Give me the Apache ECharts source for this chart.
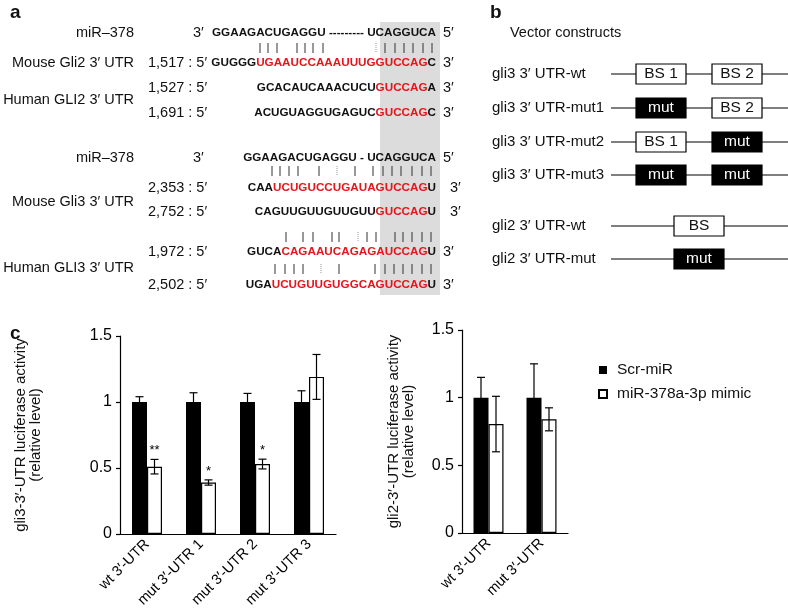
<!DOCTYPE html>
<html><head><meta charset="utf-8">
<script src="https://cdn.jsdelivr.net/npm/echarts@6/dist/echarts.min.js"></script>
<style>html,body{margin:0;padding:0;background:#fff}#c{width:788px;height:613px}</style>
</head><body><div id="c"></div>
<script>
const FONT = '"Liberation Sans", Arial, Helvetica, sans-serif';

// ---------- panel c data ----------
const gli3Categories = ['wt 3′-UTR', 'mut 3′-UTR 1', 'mut 3′-UTR 2', 'mut 3′-UTR 3'];
const gli3Scr = [1, 1, 1, 1];
const gli3ScrErr = [0.04, 0.07, 0.065, 0.085];
const gli3Mimic = [0.51, 0.39, 0.53, 1.19];
const gli3MimicErr = [0.055, 0.02, 0.037, 0.17];
const gli3Stars = ['**', '*', '*', ''];
const gli2Categories = ['wt 3′-UTR', 'mut 3′-UTR'];
const gli2Scr = [1, 1];
const gli2ScrErr = [0.15, 0.25];
const gli2Mimic = [0.805, 0.84];
const gli2MimicErr = [0.205, 0.085];
const legendNames = ['Scr-miR', 'miR-378a-3p mimic'];
const gli3AxisName = 'gli3-3′-UTR luciferase activity\n(relative level)';
const gli2AxisName = 'gli2-3′-UTR luciferase activity\n(relative level)';

// ---------- panel a text ----------
const miRName = 'miR–378';
const geneLabels = ['Mouse Gli2 3′ UTR', 'Human GLI2 3′ UTR', 'Mouse Gli3 3′ UTR', 'Human GLI3 3′ UTR'];
const miRSeqGli2 = 'GGAAGACUGAGGU --------- UCAGGUCA';
const miRSeqGli3 = 'GGAAGACUGAGGU - UCAGGUCA';
const utrPos = ['1,517', '1,527', '1,691', '2,353', '2,752', '1,972', '2,502'];
const utrPre = ['GUGGG', 'GCACAUCAAACUCU', 'ACUGUAGGUGAGUC', 'CAA', 'CAGUUGUUGUUGUU', 'GUCA', 'UGA'];
const utrRed = ['UGAAUCCAAAUUUGGUCCAG', 'GUCCAG', 'GUCCAG', 'UCUGUCCUGAUAGUCCAG', 'GUCCAG', 'CAGAAUCAGAGAUCCAG', 'UCUGUUGUGGCAGUCCAG'];
const utrPost = ['C', 'A', 'C', 'U', 'U', 'U', 'U'];

// ---------- panel b text ----------
const constructNames = ['gli3 3′ UTR-wt', 'gli3 3′ UTR-mut1', 'gli3 3′ UTR-mut2', 'gli3 3′ UTR-mut3', 'gli2 3′ UTR-wt', 'gli2 3′ UTR-mut'];
const constructBoxes = [['BS 1', 'BS 2'], ['mut', 'BS 2'], ['BS 1', 'mut'], ['mut', 'mut'], ['BS'], ['mut']];

// ---------- layout (positions, not data) ----------
const utrRowY = [63, 88, 113, 188, 212, 252, 285];
const utrEnd3X = [443, 443, 443, 450, 450, 443, 443];
const geneLabelY = [63, 100, 202, 268];
const pairRows = [
  {y1: 43, y2: 53, xs: [260, 268, 277, 297, 305, 313, 323, 376, 385, 395, 404, 413, 423, 432], dotted: [376]},
  {y1: 166, y2: 176, xs: [272, 280, 289, 298, 319, 337, 355, 373, 383, 392, 401, 412, 422, 431], dotted: [337]},
  {y1: 232, y2: 242, xs: [286, 303, 313, 332, 339, 358, 367, 376, 395, 403, 412, 422, 431], dotted: [358]},
  {y1: 264, y2: 274, xs: [275, 285, 294, 303, 321, 339, 375, 385, 394, 403, 412, 422, 431], dotted: [321]}
];
const constructY = [74, 108, 142, 175, 226, 259];

const INK = '#111';
const RED = '#e8141b';
const SEQ_SIZE = 11.7;

function T(x, y, text, o) {
  o = o || {};
  return {
    type: 'text', x: x, y: y, silent: true, z: 10,
    style: Object.assign({
      text: text, fill: o.fill || INK, fontFamily: FONT, fontSize: o.size || 14.5,
      fontWeight: o.bold ? 'bold' : 'normal', align: o.align || 'left', verticalAlign: 'middle'
    }, o.extra || {})
  };
}
function seqText(x, y, pre, red, post) {
  const rich = {
    k: {fontFamily: FONT, fontSize: SEQ_SIZE, fontWeight: 'bold', fill: INK, color: INK},
    r: {fontFamily: FONT, fontSize: SEQ_SIZE, fontWeight: 'bold', fill: RED, color: RED}
  };
  let s = '';
  if (pre) s += '{k|' + pre + '}';
  if (red) s += '{r|' + red + '}';
  if (post) s += '{k|' + post + '}';
  return {
    type: 'text', x: x, y: y, silent: true, z: 10,
    style: {text: s, rich: rich, fontFamily: FONT, fontSize: SEQ_SIZE, fontWeight: 'bold', fill: INK, align: 'right', verticalAlign: 'middle'}
  };
}

const graphics = [];
// panel letters
graphics.push(T(10, 13, 'a', {bold: true, size: 19}));
graphics.push(T(490, 13, 'b', {bold: true, size: 19}));
graphics.push(T(10, 334, 'c', {bold: true, size: 19}));

// panel a: gray seed shading
graphics.push({type: 'rect', silent: true, z: 1, shape: {x: 380, y: 22, width: 60, height: 273}, style: {fill: '#dcdcdc'}});
// miR rows
[[33, miRSeqGli2], [158, miRSeqGli3]].forEach(function (r) {
  graphics.push(T(134, r[0], miRName, {align: 'right'}));
  graphics.push(T(193, r[0], '3′'));
  graphics.push(seqText(436, r[0], r[1], '', ''));
  graphics.push(T(443, r[0], '5′'));
});
geneLabels.forEach(function (g, i) {
  graphics.push(T(134, geneLabelY[i], g, {align: 'right'}));
});
utrPos.forEach(function (p, i) {
  graphics.push(T(148, utrRowY[i], p + ' : 5′'));
  graphics.push(seqText(436, utrRowY[i], utrPre[i], utrRed[i], utrPost[i]));
  graphics.push(T(utrEnd3X[i], utrRowY[i], '3′'));
});
pairRows.forEach(function (row) {
  row.xs.forEach(function (x) {
    const dot = row.dotted.indexOf(x) >= 0;
    graphics.push({type: 'line', silent: true, z: 5,
      shape: {x1: x, y1: row.y1, x2: x, y2: row.y2},
      style: {stroke: dot ? '#999' : '#333', lineWidth: 1, lineDash: dot ? [1, 1] : null}});
  });
});

// panel b
graphics.push(T(510, 33, 'Vector constructs'));
constructNames.forEach(function (name, i) {
  const y = constructY[i];
  graphics.push(T(492, y, name, {size: 15}));
  graphics.push({type: 'line', silent: true, z: 4, shape: {x1: 611, y1: y, x2: 788, y2: y}, style: {stroke: '#000', lineWidth: 1.2}});
  const boxes = constructBoxes[i];
  const xs = boxes.length === 2 ? [636, 712] : [674];
  boxes.forEach(function (b, j) {
    const isMut = b === 'mut';
    graphics.push({type: 'rect', silent: true, z: 6, shape: {x: xs[j], y: y - 10, width: 50, height: 20},
      style: {fill: isMut ? '#000' : '#fff', stroke: '#000', lineWidth: 1.2}});
    graphics.push(T(xs[j] + 25, y, b, {align: 'center', size: 15.5, fill: isMut ? '#fff' : INK}));
  });
});

function errRender(side, stars) {
  return function (params, api) {
    const i = api.value(0), v = api.value(1), e = api.value(2);
    const p0 = api.coord([i, v + e]), p1 = api.coord([i, v - e]);
    const x = p0[0] + side * 7.5;
    const ls = {stroke: '#000', lineWidth: 1.2};
    const children = [
      {type: 'line', shape: {x1: x, y1: p0[1], x2: x, y2: p1[1]}, style: ls},
      {type: 'line', shape: {x1: x - 4, y1: p0[1], x2: x + 4, y2: p0[1]}, style: ls},
      {type: 'line', shape: {x1: x - 4, y1: p1[1], x2: x + 4, y2: p1[1]}, style: ls}
    ];
    if (stars && stars[params.dataIndex]) {
      children.push({type: 'text', x: x, y: p0[1] - 2,
        style: {text: stars[params.dataIndex], align: 'center', verticalAlign: 'bottom', fontSize: 13, fontFamily: FONT, fill: '#000'}});
    }
    return {type: 'group', children: children};
  };
}

function xAxisCfg(idx, cats) {
  return {
    type: 'category', gridIndex: idx, data: cats,
    axisLine: {lineStyle: {color: '#000', width: 1.2}},
    axisTick: {show: false},
    axisLabel: {interval: 0, rotate: 45, fontSize: 14.5, fontFamily: FONT, color: '#000', margin: 8}
  };
}
function yAxisCfg(idx, name, gap) {
  return {
    type: 'value', gridIndex: idx, min: 0, max: 1.5, interval: 0.5,
    name: name, nameLocation: 'middle', nameRotate: 90, nameGap: gap,
    nameTextStyle: {fontSize: 15, fontFamily: FONT, color: '#111', lineHeight: 15},
    axisLine: {show: true, lineStyle: {color: '#000', width: 1.2}},
    axisTick: {show: true, length: 4, lineStyle: {color: '#000', width: 1.2}},
    axisLabel: {fontSize: 16, fontFamily: FONT, color: '#000', margin: 8},
    splitLine: {show: false}
  };
}
function barSeries(name, ax, data, black) {
  return {
    name: name, type: 'bar', xAxisIndex: ax, yAxisIndex: ax, data: data,
    barWidth: 15, barGap: '0%', z: 2,
    itemStyle: black ? {color: '#000'} : {color: '#fff', borderColor: '#000', borderWidth: 1.2}
  };
}
function errSeries(ax, vals, errs, side, stars) {
  return {
    type: 'custom', xAxisIndex: ax, yAxisIndex: ax, z: 3, silent: true,
    data: vals.map(function (v, i) { return [i, v, errs[i]]; }),
    encode: {x: 0, y: 1},
    renderItem: errRender(side, stars)
  };
}

const chart = echarts.init(document.getElementById('c'));
chart.setOption({
  animation: false,
  backgroundColor: '#fff',
  textStyle: {fontFamily: FONT},
  grid: [
    {left: 120, top: 336, width: 216, height: 198},
    {left: 462, top: 330, width: 106, height: 203}
  ],
  xAxis: [xAxisCfg(0, gli3Categories), xAxisCfg(1, gli2Categories)],
  yAxis: [yAxisCfg(0, gli3AxisName, 77), yAxisCfg(1, gli2AxisName, 46)],
  legend: {
    data: legendNames, orient: 'vertical', left: 593, top: 357,
    itemWidth: 8, itemHeight: 8, itemGap: 8, icon: 'rect',
    textStyle: {fontSize: 15.5, fontFamily: FONT, color: '#111', lineHeight: 16, padding: [0, 0, 0, 5]}
  },
  series: [
    barSeries(legendNames[0], 0, gli3Scr, true),
    barSeries(legendNames[1], 0, gli3Mimic, false),
    barSeries(legendNames[0], 1, gli2Scr, true),
    barSeries(legendNames[1], 1, gli2Mimic, false),
    errSeries(0, gli3Scr, gli3ScrErr, -1, null),
    errSeries(0, gli3Mimic, gli3MimicErr, 1, gli3Stars),
    errSeries(1, gli2Scr, gli2ScrErr, -1, null),
    errSeries(1, gli2Mimic, gli2MimicErr, 1, null)
  ],
  graphic: graphics
});
</script></body></html>
